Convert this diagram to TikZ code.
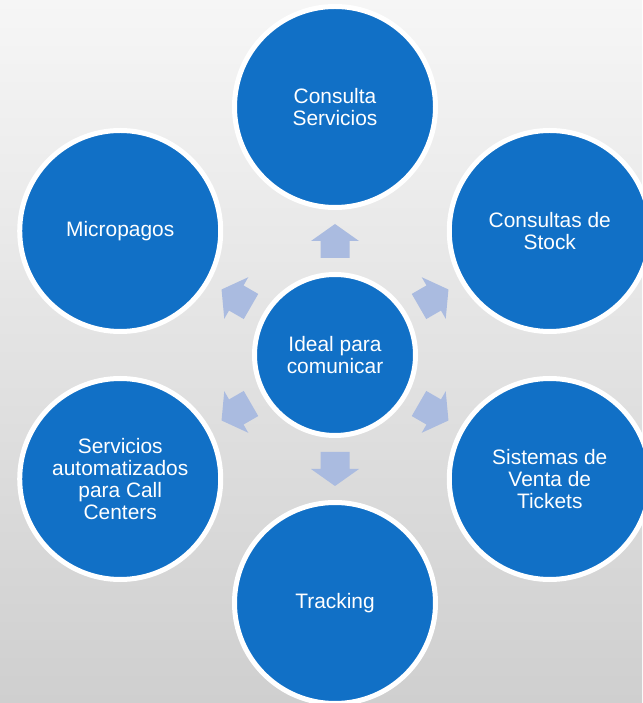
\documentclass[tikz,border=0pt]{standalone}
\usepackage{fontspec}
\setmainfont{Liberation Sans}
\usetikzlibrary{calc}
\definecolor{ideablue}{RGB}{17,112,198}
\definecolor{arrowblue}{RGB}{170,187,224}
\definecolor{bgtop}{RGB}{246,246,246}
\definecolor{bgbottom}{RGB}{207,207,207}
\tikzset{
  idea/.style={circle,fill=ideablue,draw=white,line width=2mm,inner sep=0pt,
    text=white,align=center,font=\fontsize{23.8}{24.7}\selectfont},
  outer idea/.style={idea,minimum size=80.4mm},
  hub/.style={idea,minimum size=64.4mm},
  arrowfill/.style={fill=arrowblue}
}
\begin{document}
\begin{tikzpicture}[x=0.4mm,y=0.4mm]
\useasboundingbox (0,0) rectangle (642,703);
\shade[top color=bgtop,bottom color=bgbottom] (0,0) rectangle (642,703);
\node[hub] (ctr) at (335,348) {Ideal para\\comunicar};
\node[outer idea] (servicios) at ($(ctr)+(90:248)$) {Consulta\\Servicios};
\node[outer idea] (stock) at ($(ctr)+(30:248)$) {Consultas de\\Stock};
\node[outer idea] (tickets) at ($(ctr)+(-30:248)$) {Sistemas de\\Venta de\\Tickets};
\node[outer idea] (tracking) at ($(ctr)+(-90:248)$) {Tracking};
\node[outer idea] (callcenter) at ($(ctr)+(-150:248)$) {Servicios\\automatizados\\para Call\\Centers};
\node[outer idea] (micropagos) at ($(ctr)+(150:248)$) {Micropagos};
% block arrows from the hub
\foreach \a in {90,30,-30,-90,-150,150}
  \fill[arrowfill,shift={(ctr)},rotate=\a]
    (97,-14.5) -- (114,-14.5) -- (114,-24) -- (131,0) -- (114,24) -- (114,14.5) -- (97,14.5) -- cycle;
\end{tikzpicture}
\end{document}
